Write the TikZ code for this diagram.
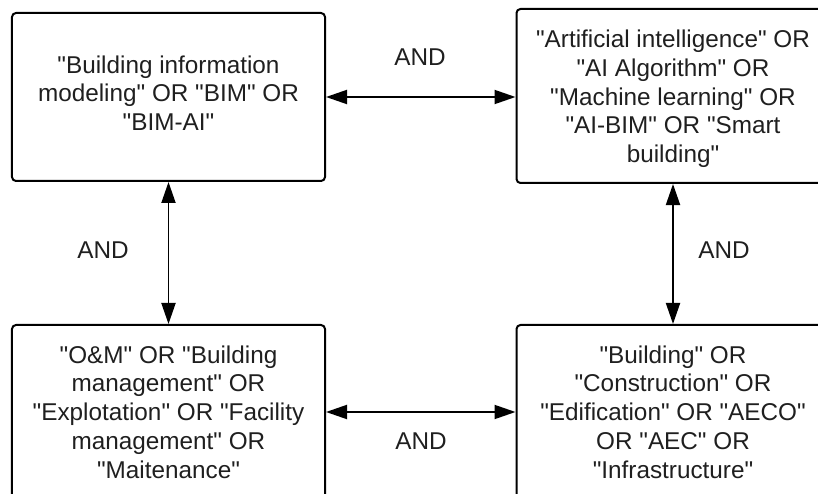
\documentclass[tikz,border=0pt]{standalone}
\usepackage{fontspec}
\setmainfont{Liberation Sans}
\usetikzlibrary{arrows.meta}
\newcommand\qq{\textquotedbl}
\begin{document}
\begin{tikzpicture}[x=1bp,y=-1bp,
  box/.style={draw=black, line width=2bp, rounded corners=4bp, minimum width=313bp, inner sep=0pt},
  boxtext/.style={align=center, inner sep=0pt, font=\fontsize{24.3bp}{28.7bp}\selectfont, text=black!88},
  link/.style={line width=1.9bp, {Triangle[length=21bp,width=14bp]}-{Triangle[length=21bp,width=14bp]}},
  lbl/.style={font=\fontsize{24.3bp}{28bp}\selectfont, text=black!88}]
\useasboundingbox (0,0) rectangle (818,494);
\clip (0,0) rectangle (818,494);
\node[box, minimum height=168bp] (tl) at (168.5,97) {};
\node[box, minimum height=174bp] (tr) at (673,96) {};
\node[box, minimum height=174bp] (bl) at (168.5,412) {};
\node[box, minimum height=174bp] (br) at (673,412) {};
\node[boxtext] (tlt) at ([yshift=4bp]tl.center) {\qq Building information\\modeling\qq{} OR \qq BIM\qq{} OR\\\qq BIM-AI\qq};
\node[boxtext] (trt) at ([yshift=-3bp]tr.center) {\qq Artificial intelligence\qq{} OR\\\qq AI Algorithm\qq{} OR\\\qq Machine learning\qq{} OR\\\qq AI-BIM\qq{} OR \qq Smart\\building\qq};
\node[boxtext] (blt) at (bl.center) {\qq O\&M\qq{} OR \qq Building\\management\qq{} OR\\\qq Explotation\qq{} OR \qq Facility\\management\qq{} OR\\\qq Maitenance\qq};
\node[boxtext] (brt) at (br.center) {\qq Building\qq{} OR\\\qq Construction\qq{} OR\\\qq Edification\qq{} OR \qq AECO\qq\\OR \qq AEC\qq{} OR\\\qq Infrastructure\qq};
\draw[link] (tl.east) -- (tl.east -| tr.west);
\draw[link] (bl.east) -- (br.west);
\draw[link] (tl.south) -- (tl.south |- bl.north);
\draw[link] (tr.south) -- (tr.south |- br.north);
\node[lbl] (a1) at (420,57) {AND};
\node[lbl] (a2) at (103,250) {AND};
\node[lbl] (a3) at (724,250) {AND};
\node[lbl] (a4) at (421,441) {AND};
\end{tikzpicture}
\end{document}
